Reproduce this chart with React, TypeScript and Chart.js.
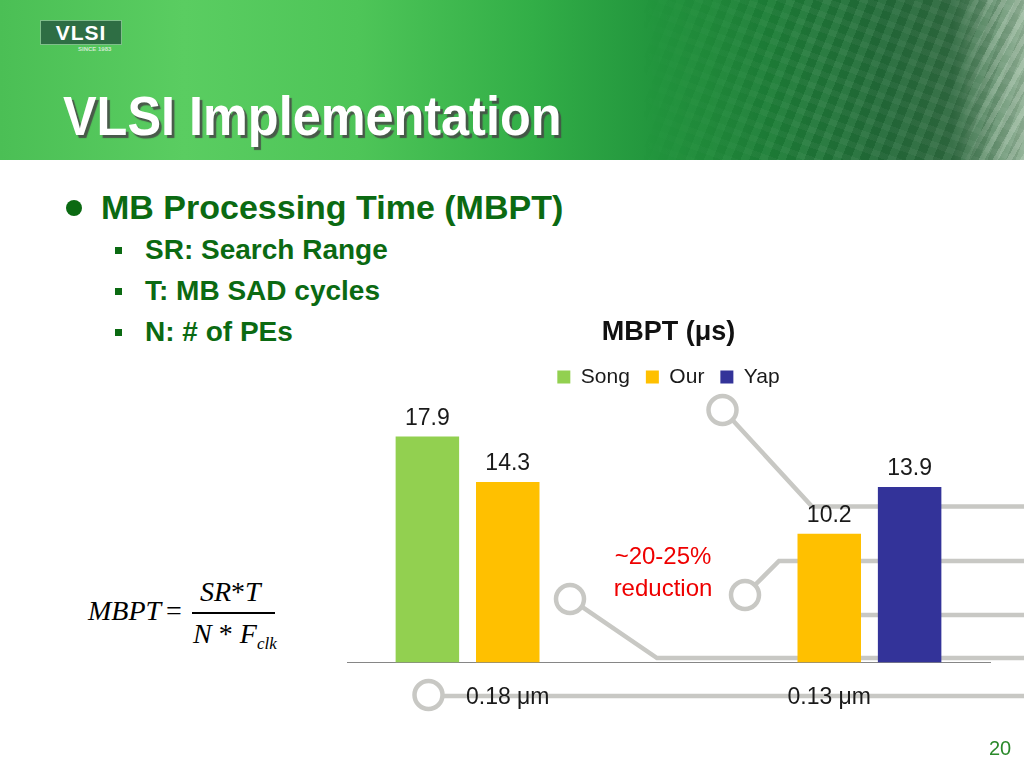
import React, { useEffect, useRef } from "react";
import { Chart, registerables } from "chart.js";

Chart.register(...registerables);

// ---- data ----
const categories = ["0.18 μm", "0.13 μm"];
const seriesNames = ["Song", "Our", "Yap"];
const songValues: (number | null)[] = [17.9, null];
const ourValues: (number | null)[] = [14.3, 10.2];
const yapValues: (number | null)[] = [null, 13.9];
const seriesColors = ["#92D050", "#FFC000", "#333399"];
const chartTitle = "MBPT (μs)";
const yAxisMax = 21;

const slideTitle = "VLSI Implementation";
const mainBullet = "MB Processing Time (MBPT)";
const subBullets = ["SR: Search Range", "T: MB SAD cycles", "N: # of PEs"];
const noteLines = ["~20-25%", "reduction"];
const pageNumber = "20";

const FONT = "'Liberation Sans', Arial, Helvetica, sans-serif";
const SERIF = "'Liberation Serif', 'Times New Roman', serif";
const GREEN = "#0b6a12";

const valueLabels = {
  id: "valueLabels",
  afterDatasetsDraw(chart: any) {
    const ctx = chart.ctx;
    ctx.save();
    ctx.font = `23px ${FONT}`;
    ctx.fillStyle = "#1a1a1a";
    ctx.textAlign = "center";
    ctx.textBaseline = "alphabetic";
    chart.data.datasets.forEach((ds: any, i: number) => {
      const meta = chart.getDatasetMeta(i);
      meta.data.forEach((el: any, j: number) => {
        const v = ds.data[j];
        if (v === null || v === undefined) return;
        ctx.fillText(String(v), el.x, el.y - 12);
      });
    });
    ctx.restore();
  },
};

function BarChart() {
  const ref = useRef<HTMLCanvasElement>(null);
  useEffect(() => {
    if (!ref.current) return;
    Chart.defaults.font.family = FONT;
    const values = [songValues, ourValues, yapValues];
    const chart = new Chart(ref.current, {
      type: "bar",
      data: {
        labels: categories,
        datasets: seriesNames.map((name, i) => ({
          label: name,
          data: values[i],
          backgroundColor: seriesColors[i],
          borderWidth: 0,
          categoryPercentage: 0.75,
          barPercentage: 0.79,
        })),
      },
      options: {
        animation: false,
        responsive: true,
        maintainAspectRatio: false,
        layout: { padding: { left: 10, right: 20, top: 0, bottom: 19 } },
        plugins: {
          title: {
            display: true,
            text: chartTitle,
            color: "#111111",
            font: { size: 27, weight: "bold", family: FONT },
            padding: { top: 16, bottom: 2 },
          },
          legend: {
            display: true,
            position: "top",
            labels: {
              boxWidth: 13,
              boxHeight: 13,
              padding: 16,
              color: "#1a1a1a",
              font: { size: 21, family: FONT },
            },
          },
          tooltip: { enabled: false },
        },
        scales: {
          x: {
            grid: { display: false, drawTicks: false },
            border: { display: true, color: "#868686", width: 1 },
            ticks: { color: "#1a1a1a", font: { size: 23, family: FONT }, padding: 21 },
          },
          y: { display: false, min: 0, max: yAxisMax },
        },
      } as any,
      plugins: [valueLabels],
    });
    return () => chart.destroy();
  }, []);
  return (
    <div style={{ position: "absolute", left: 337, top: 300, width: 673, height: 451 }}>
      <canvas ref={ref} />
    </div>
  );
}

function Circuit() {
  const stroke = "#c8c8c4";
  const w = 4.5;
  return (
    <svg
      width={1024}
      height={768}
      style={{ position: "absolute", left: 0, top: 0 }}
      fill="none"
      stroke={stroke}
      strokeWidth={w}
    >
      <circle cx={722.5} cy={410} r={14} />
      <polyline points="732.5,420 812,506.5 1024,506.5" />
      <circle cx={745} cy={595} r={14} />
      <polyline points="755,585 779,561 1024,561" />
      <line x1={850} y1={615} x2={1024} y2={615} />
      <circle cx={570} cy={599} r={14} />
      <polyline points="581.7,606.7 657,658 1024,658" />
      <circle cx={428.5} cy={695} r={14} />
      <line x1={442.5} y1={696} x2={1024} y2={696} />
    </svg>
  );
}

function Header() {
  return (
    <div
      style={{
        position: "absolute",
        left: 0,
        top: 0,
        width: 1024,
        height: 160,
        overflow: "hidden",
        background:
          "linear-gradient(90deg, #4bbf55 0%, #5acd61 18%, #4ec558 35%, #32ae47 52%, #22953d 64%, #1e7f38 75%, #226b38 86%, #2f6a40 93%, #8fb094 100%)",
      }}
    >
      <div
        style={{
          position: "absolute",
          left: 640,
          top: 0,
          width: 384,
          height: 160,
          background:
            "repeating-linear-gradient(112deg, rgba(255,255,255,0.05) 0px, rgba(255,255,255,0.05) 8px, rgba(0,0,0,0.05) 8px, rgba(0,0,0,0.05) 17px), repeating-linear-gradient(20deg, rgba(255,255,255,0.04) 0px, rgba(255,255,255,0.04) 6px, transparent 6px, transparent 14px)",
          WebkitMaskImage: "linear-gradient(90deg, transparent 0%, black 45%, black 100%)",
          maskImage: "linear-gradient(90deg, transparent 0%, black 45%, black 100%)",
        }}
      />
      <div
        style={{
          position: "absolute",
          left: 960,
          top: 0,
          width: 64,
          height: 160,
          background:
            "repeating-linear-gradient(120deg, rgba(220,235,220,0.25) 0px, rgba(220,235,220,0.25) 5px, transparent 5px, transparent 12px)",
          WebkitMaskImage: "linear-gradient(90deg, transparent 0%, black 60%)",
          maskImage: "linear-gradient(90deg, transparent 0%, black 60%)",
        }}
      />
      {/* logo */}
      <div
        style={{
          position: "absolute",
          left: 40,
          top: 20,
          width: 82,
          height: 25,
          background: "#2e6e44",
          border: "1px solid #7fbf8a",
          boxSizing: "border-box",
        }}
      >
        <div
          style={{
            position: "absolute",
            left: 0,
            top: 0,
            width: 80,
            textAlign: "center",
            color: "#ffffff",
            fontFamily: FONT,
            fontWeight: "bold",
            fontSize: 21,
            lineHeight: "23px",
            letterSpacing: 1,
          }}
        >
          VLSI
        </div>
      </div>
      <div
        style={{
          position: "absolute",
          left: 78,
          top: 46,
          color: "#cfe9d0",
          fontFamily: FONT,
          fontSize: 6,
          lineHeight: "7px",
          fontWeight: "bold",
          whiteSpace: "nowrap",
        }}
      >
        SINCE 1983
      </div>
      <div
        style={{
          position: "absolute",
          left: 63,
          top: 88,
          fontFamily: FONT,
          fontWeight: "bold",
          fontSize: 56,
          lineHeight: "56px",
          color: "#ffffff",
          whiteSpace: "nowrap",
          transform: "scaleX(0.9)",
          transformOrigin: "0 0",
          textShadow: "3px 3px 1px rgba(70,70,70,0.85)",
        }}
      >
        {slideTitle}
      </div>
    </div>
  );
}

function Bullets() {
  const subTops = [236, 277, 318];
  return (
    <>
      <div
        style={{
          position: "absolute",
          left: 66,
          top: 200,
          width: 16,
          height: 16,
          borderRadius: 8,
          background: GREEN,
        }}
      />
      <div
        style={{
          position: "absolute",
          left: 101,
          top: 190,
          fontFamily: FONT,
          fontWeight: "bold",
          fontSize: 34,
          lineHeight: "34px",
          color: GREEN,
          whiteSpace: "nowrap",
        }}
      >
        {mainBullet}
      </div>
      {subBullets.map((t, i) => (
        <React.Fragment key={t}>
          <div
            style={{
              position: "absolute",
              left: 115,
              top: subTops[i] + 11,
              width: 7,
              height: 7,
              background: GREEN,
            }}
          />
          <div
            style={{
              position: "absolute",
              left: 145,
              top: subTops[i],
              fontFamily: FONT,
              fontWeight: "bold",
              fontSize: 28,
              lineHeight: "28px",
              color: GREEN,
              whiteSpace: "nowrap",
            }}
          >
            {t}
          </div>
        </React.Fragment>
      ))}
    </>
  );
}

function Formula() {
  const base = {
    position: "absolute" as const,
    fontFamily: SERIF,
    color: "#000",
    whiteSpace: "nowrap" as const,
  };
  return (
    <>
      <div style={{ ...base, left: 88, top: 597, fontSize: 28, lineHeight: "28px", fontStyle: "italic" }}>MBPT</div>
      <div style={{ ...base, left: 166, top: 597, fontSize: 28, lineHeight: "28px" }}>=</div>
      <div style={{ ...base, left: 200, top: 578, fontSize: 28, lineHeight: "28px", fontStyle: "italic" }}>
        SR<span style={{ fontStyle: "normal" }}>*</span>T
      </div>
      <div style={{ position: "absolute", left: 192, top: 612, width: 83, height: 1.5, background: "#000" }} />
      <div style={{ ...base, left: 193, top: 620, fontSize: 28, lineHeight: "28px", fontStyle: "italic" }}>
        N<span style={{ fontStyle: "normal" }}> * </span>F
      </div>
      <div style={{ ...base, left: 257, top: 635, fontSize: 17, lineHeight: "17px", fontStyle: "italic" }}>clk</div>
    </>
  );
}

export default function App() {
  return (
    <div
      style={{
        position: "absolute",
        left: 0,
        top: 0,
        width: 1024,
        height: 768,
        overflow: "hidden",
        background: "#ffffff",
        fontFamily: FONT,
      }}
    >
      <Header />
      <Bullets />
      <Formula />
      <Circuit />
      <BarChart />
      <div
        style={{
          position: "absolute",
          left: 563,
          top: 540,
          width: 200,
          textAlign: "center",
          color: "#ee0000",
          fontFamily: FONT,
          fontSize: 24,
          lineHeight: "32px",
        }}
      >
        {noteLines.map((l) => (
          <div key={l}>{l}</div>
        ))}
      </div>
      <div
        style={{
          position: "absolute",
          left: 980,
          top: 738,
          width: 40,
          textAlign: "center",
          color: "#2b8a2b",
          fontFamily: FONT,
          fontSize: 20,
          lineHeight: "20px",
        }}
      >
        {pageNumber}
      </div>
    </div>
  );
}
